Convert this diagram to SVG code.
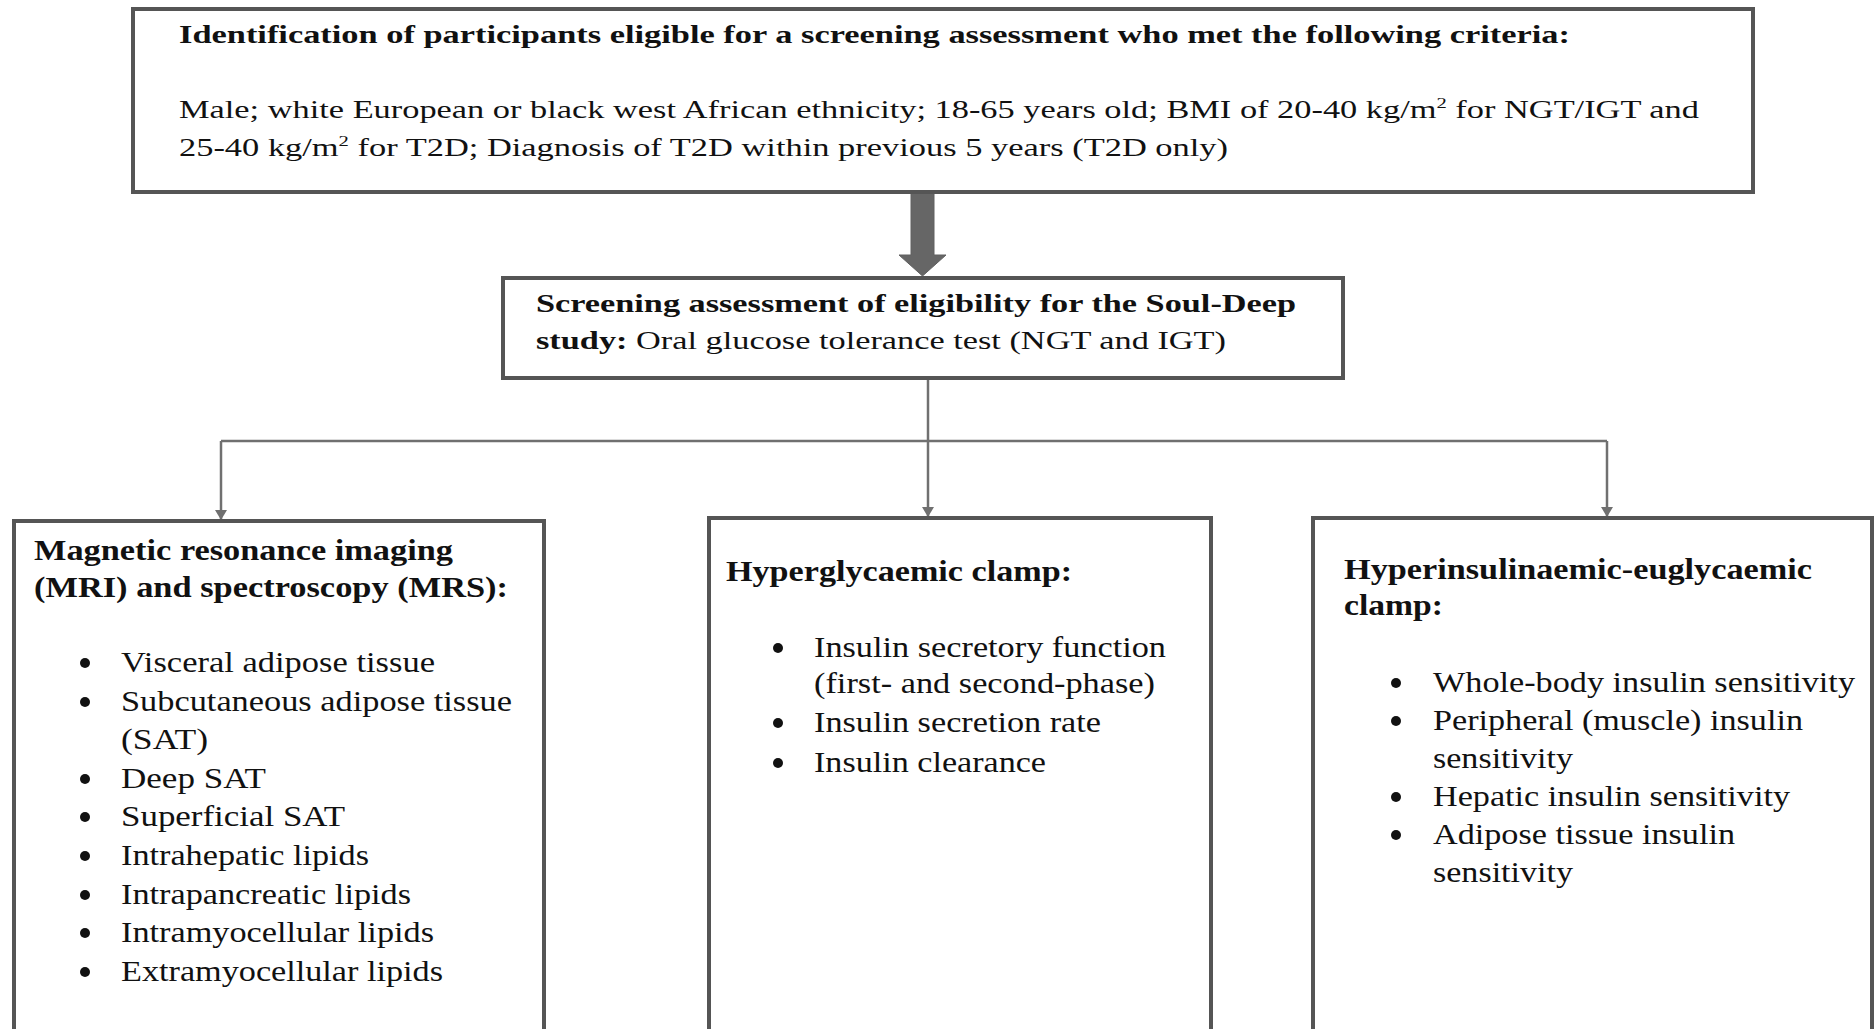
<svg xmlns="http://www.w3.org/2000/svg" width="1876" height="1029" viewBox="0 0 1876 1029">
<defs>
<style>
.box{fill:#fff;stroke:#555;stroke-width:4}
.t{font-family:"Liberation Serif","Times New Roman",serif;fill:#111}
.b{font-weight:bold}
.top{font-size:25px}
.s2{font-size:25px}
.h{font-size:29px;font-weight:bold}
.li{font-size:30px}
.dot{fill:#111}
.con{fill:none;stroke:#707070;stroke-width:2.5}
</style>
<marker id="ah" viewBox="0 0 10 12" refX="10" refY="6" markerWidth="10" markerHeight="12" markerUnits="userSpaceOnUse" orient="auto">
<path d="M0,0 L10,6 L0,12 z" fill="#707070"/>
</marker>
</defs>
<rect width="1876" height="1029" fill="#fff"/>

<g id="connectors">
<polygon points="911,193 934,193 934,255 946,255 922.5,276 899,255 911,255" fill="#666" stroke="#606060" stroke-width="1"/>
<path class="con" d="M928,379 V441"/>
<path class="con" d="M221,441 H1607"/>
<path class="con" d="M221,441 V520" marker-end="url(#ah)"/>
<path class="con" d="M928,441 V517" marker-end="url(#ah)"/>
<path class="con" d="M1607,441 V517" marker-end="url(#ah)"/>
</g>

<g id="node-eligibility">
<rect class="box" x="133" y="9" width="1620" height="183"/>
<text class="t top b" x="179" y="43" textLength="1391" lengthAdjust="spacingAndGlyphs">Identification of participants eligible for a screening assessment who met the following criteria:</text>
<text class="t top" x="179" y="118" textLength="1520" lengthAdjust="spacingAndGlyphs">Male; white European or black west African ethnicity; 18-65 years old; BMI of 20-40 kg/m<tspan font-size="15" dy="-10">2</tspan><tspan dy="10"> for NGT/IGT and</tspan></text>
<text class="t top" x="179" y="156" textLength="1049" lengthAdjust="spacingAndGlyphs">25-40 kg/m<tspan font-size="15" dy="-10">2</tspan><tspan dy="10"> for T2D; Diagnosis of T2D within previous 5 years (T2D only)</tspan></text>
</g>

<g id="node-screening">
<rect class="box" x="503" y="278" width="840" height="100"/>
<text class="t s2 b" x="536" y="312" textLength="760" lengthAdjust="spacingAndGlyphs">Screening assessment of eligibility for the Soul-Deep</text>
<text class="t s2" x="536" y="349" textLength="690" lengthAdjust="spacingAndGlyphs"><tspan font-weight="bold">study:</tspan> Oral glucose tolerance test (NGT and IGT)</text>
</g>

<g id="node-mri">
<rect class="box" x="14" y="521" width="530" height="520"/>
<text class="t h" x="34" y="560" textLength="419" lengthAdjust="spacingAndGlyphs">Magnetic resonance imaging</text>
<text class="t h" x="34" y="597" textLength="474" lengthAdjust="spacingAndGlyphs">(MRI) and spectroscopy (MRS):</text>
<circle class="dot" cx="85" cy="663" r="5"/>
<text class="t li" x="121" y="672" textLength="314" lengthAdjust="spacingAndGlyphs">Visceral adipose tissue</text>
<circle class="dot" cx="85" cy="702" r="5"/>
<text class="t li" x="121" y="711" textLength="391" lengthAdjust="spacingAndGlyphs">Subcutaneous adipose tissue</text>
<text class="t li" x="121" y="749" textLength="87" lengthAdjust="spacingAndGlyphs">(SAT)</text>
<circle class="dot" cx="85" cy="779" r="5"/>
<text class="t li" x="121" y="788" textLength="145" lengthAdjust="spacingAndGlyphs">Deep SAT</text>
<circle class="dot" cx="85" cy="817" r="5"/>
<text class="t li" x="121" y="826" textLength="224" lengthAdjust="spacingAndGlyphs">Superficial SAT</text>
<circle class="dot" cx="85" cy="856" r="5"/>
<text class="t li" x="121" y="865" textLength="248" lengthAdjust="spacingAndGlyphs">Intrahepatic lipids</text>
<circle class="dot" cx="85" cy="895" r="5"/>
<text class="t li" x="121" y="904" textLength="290" lengthAdjust="spacingAndGlyphs">Intrapancreatic lipids</text>
<circle class="dot" cx="85" cy="933" r="5"/>
<text class="t li" x="121" y="942" textLength="313" lengthAdjust="spacingAndGlyphs">Intramyocellular lipids</text>
<circle class="dot" cx="85" cy="972" r="5"/>
<text class="t li" x="121" y="981" textLength="322" lengthAdjust="spacingAndGlyphs">Extramyocellular lipids</text>
</g>

<g id="node-hyperglycaemic">
<rect class="box" x="709" y="518" width="502" height="520"/>
<text class="t h" x="726" y="581" textLength="346" lengthAdjust="spacingAndGlyphs">Hyperglycaemic clamp:</text>
<circle class="dot" cx="778" cy="648" r="5"/>
<text class="t li" x="814" y="657" textLength="352" lengthAdjust="spacingAndGlyphs">Insulin secretory function</text>
<text class="t li" x="814" y="693" textLength="341" lengthAdjust="spacingAndGlyphs">(first- and second-phase)</text>
<circle class="dot" cx="778" cy="723" r="5"/>
<text class="t li" x="814" y="732" textLength="287" lengthAdjust="spacingAndGlyphs">Insulin secretion rate</text>
<circle class="dot" cx="778" cy="763" r="5"/>
<text class="t li" x="814" y="772" textLength="232" lengthAdjust="spacingAndGlyphs">Insulin clearance</text>
</g>

<g id="node-hyperinsulinaemic">
<rect class="box" x="1313" y="518" width="559" height="520"/>
<text class="t h" x="1344" y="579" textLength="468" lengthAdjust="spacingAndGlyphs">Hyperinsulinaemic-euglycaemic</text>
<text class="t h" x="1344" y="615" textLength="99" lengthAdjust="spacingAndGlyphs">clamp:</text>
<circle class="dot" cx="1396" cy="683" r="5"/>
<text class="t li" x="1433" y="692" textLength="422" lengthAdjust="spacingAndGlyphs">Whole-body insulin sensitivity</text>
<circle class="dot" cx="1396" cy="721" r="5"/>
<text class="t li" x="1433" y="730" textLength="370" lengthAdjust="spacingAndGlyphs">Peripheral (muscle) insulin</text>
<text class="t li" x="1433" y="768" textLength="140" lengthAdjust="spacingAndGlyphs">sensitivity</text>
<circle class="dot" cx="1396" cy="797" r="5"/>
<text class="t li" x="1433" y="806" textLength="357" lengthAdjust="spacingAndGlyphs">Hepatic insulin sensitivity</text>
<circle class="dot" cx="1396" cy="835" r="5"/>
<text class="t li" x="1433" y="844" textLength="302" lengthAdjust="spacingAndGlyphs">Adipose tissue insulin</text>
<text class="t li" x="1433" y="882" textLength="140" lengthAdjust="spacingAndGlyphs">sensitivity</text>
</g>
</svg>
